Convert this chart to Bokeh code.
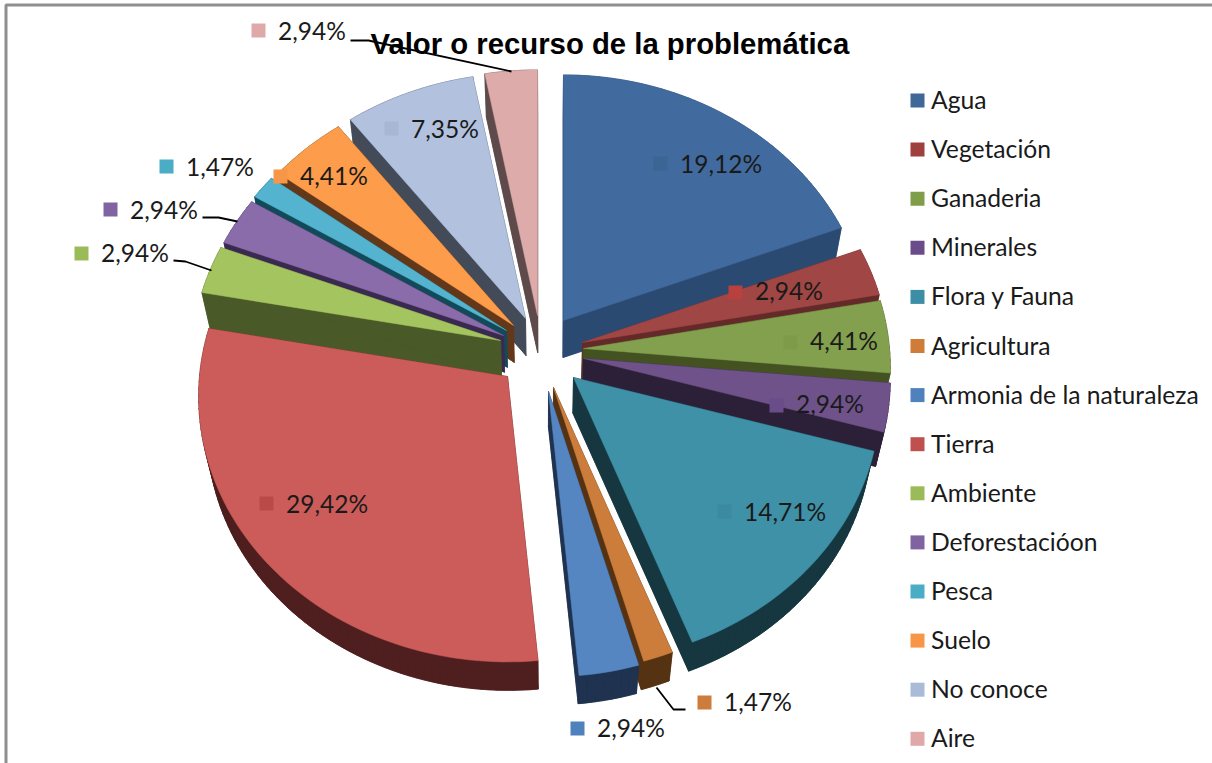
import math
from bokeh.plotting import figure
from bokeh.models import Range1d
from bokeh.core.properties import value
from bokeh.embed import file_html
from bokeh.resources import INLINE

# ---- data ----
categories = ["Agua", "Vegetación", "Ganaderia", "Minerales", "Flora y Fauna", "Agricultura",
              "Armonia de la naturaleza", "Tierra", "Ambiente", "Deforestacióon", "Pesca",
              "Suelo", "No conoce", "Aire"]
values = [19.12, 2.94, 4.41, 2.94, 14.71, 1.47, 2.94, 29.42, 2.94, 2.94, 1.47, 4.41, 7.35, 2.94]
title = "Valor o recurso de la problemática"

# ---- styles ----
face_colors = ["#416b9e", "#a04644", "#82a04e", "#6e5289", "#3f91a8", "#cc7d3b", "#5686c2",
               "#cc5c59", "#a3c45f", "#8a6caa", "#54b4cf", "#fd9c4b", "#b1c1de", "#deabab"]
wall_colors = ["#2b4a72", "#642a29", "#445222", "#2c2038", "#163740", "#553212", "#1f324f",
               "#4f1f1f", "#4a5928", "#3a2a52", "#124a5a", "#63381a", "#434b59", "#5e4a4a"]
marker_colors = ["#3b6593", "#b8403e", "#7d9b49", "#6a4c8a", "#3b8aa0", "#cc7d3b", "#4f81bd",
                 "#b94a48", "#9bbb59", "#8064a2", "#4bacc6", "#f79646", "#a7b7d4", "#e0a9a9"]
legend_colors = ["#3f6797", "#a0403e", "#809d4a", "#6a4c8a", "#3b8ea5", "#cf7c38", "#4f81bd",
                 "#c0504d", "#9bbb59", "#8064a2", "#4bacc6", "#f79646", "#aabbd8", "#e0a9a9"]

# ---- layout: pie projection ----
CX, CY = 545, 350          # common centre of the pie before the slices are pulled out
RX_LEFT, RX_RIGHT = 308, 306  # horizontal radius of the top face on either side
RY = 264                   # vertical radius of the top face
PERSP = 0.075              # perspective strength (front larger than back)
DEPTH = 37                 # pie thickness
SHRINK = 0.975             # the lower face lies a little further from the viewer
explode_dx = [18, 37, 38, 38, 28, 8, 3, -38, -45, -42, -39, -32, -20, -8]
explode_dy = [-30, -8, -2, 8, 27, 37, 41, 26, -10, -15, -20, -25, -32, -35]

marker_x = [660, 735, 790, 776, 724, 704, 577, 266, 81, 110, 166, 280, 391, 258]
marker_y = [163, 292, 342, 405, 511, 702, 728, 503, 253, 209, 166, 176, 128, 30]
LABEL_GAP = 19.5
label_dy = [0, -2, -2, -2, 0, -1, -1, 0, -1, 0, 0, -1, 0, 0]
leaders = {13: ([350, 368, 511], [40, 40, 71]),
           9: ([202, 218, 237], [217, 217, 221]),
           8: ([173, 185, 211], [260, 261, 270]),
           5: ([685, 673, 656], [709, 709, 687])}


def rim(theta):
    s = 1 / (1 + PERSP * math.cos(theta))
    sx = math.sin(theta)
    return (RX_RIGHT if sx > 0 else RX_LEFT) * sx * s, -RY * math.cos(theta) * s


def lower(x, y):
    return CX + (x - CX) * SHRINK, 320 + (y - 320) * SHRINK + DEPTH


total = sum(values)
slices = []
cum = 0.0
for i, v in enumerate(values):
    a0 = cum / total * 2 * math.pi
    cum += v
    a1 = cum / total * 2 * math.pi
    ax, ay = CX + explode_dx[i], CY + explode_dy[i]
    steps = max(2, int((a1 - a0) * 40))
    pts = [(ax, ay)]
    for k in range(steps + 1):
        dx, dy = rim(a0 + (a1 - a0) * k / steps)
        pts.append((ax + dx, ay + dy))
    cy = sum(q[1] for q in pts) / len(pts)
    slices.append((cy, i, pts))
slices.sort(key=lambda s: s[0])

p = figure(width=1212, height=763, output_backend="svg", toolbar_location=None,
           x_range=Range1d(0, 1212), y_range=Range1d(763, 0), min_border=0,
           outline_line_color=None, background_fill_color="white")
p.axis.visible = False
p.grid.visible = False
p.styles = {"position": "absolute", "left": "0px", "top": "0px"}

# frame of the original picture
p.line([5.5, 5.5, 1212], [763, 4.5, 4.5], line_color="#8f8f8f", line_width=3)

for _, i, pts in slices:
    low = [lower(*q) for q in pts]
    xs, ys = [[q[0] for q in low]], [[q[1] for q in low]]
    n = len(pts)
    for k in range(n):
        a, b = pts[k], pts[(k + 1) % n]
        c, d = low[(k + 1) % n], low[k]
        xs.append([a[0], b[0], c[0], d[0]])
        ys.append([a[1], b[1], c[1], d[1]])
    p.patches(xs, ys, fill_color=wall_colors[i], line_color=wall_colors[i], line_width=0.6)
    p.patch([q[0] for q in pts], [q[1] for q in pts], fill_color=face_colors[i],
            line_color=face_colors[i], line_width=0.5)

for i, (lx, ly) in leaders.items():
    p.line(lx, ly, line_color="black", line_width=1.8)

# data labels
p.scatter(marker_x, marker_y, marker="square", size=14, color=marker_colors, line_width=0)
p.text([x + LABEL_GAP for x in marker_x], [y + d for y, d in zip(marker_y, label_dy)],
       text=[f"{v:.2f}".replace(".", ",") + "%" for v in values],
       text_font=value("Lato"), text_font_size="24.5px", text_color="#1a1a1a",
       text_baseline="middle", text_align="left")

# legend
leg_y = [100 + k * 49.1 for k in range(len(categories))]
p.scatter([917] * len(categories), leg_y, marker="square", size=14, color=legend_colors, line_width=0)
p.text([930.5] * len(categories), [y - 1 for y in leg_y], text=categories,
       text_font=value("Lato"), text_font_size="24.7px", text_color="#1a1a1a",
       text_baseline="middle", text_align="left")

# title
p.text([370], [43], text=[title], text_font=value("Liberation Sans"), text_font_style="bold",
       text_font_size="29.3px", text_color="black", text_baseline="middle", text_align="left")

open("out.html", "w").write(file_html(p, INLINE))
